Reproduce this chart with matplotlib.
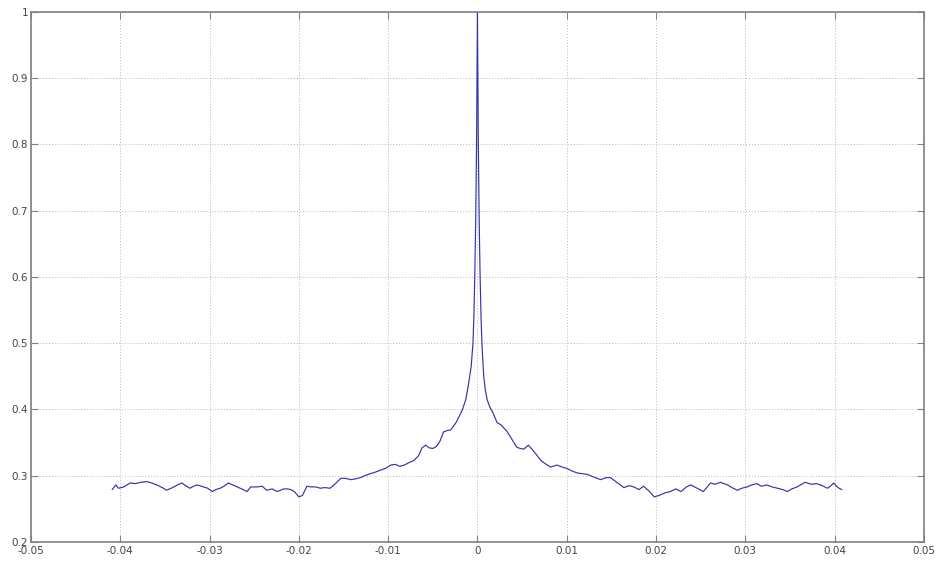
import matplotlib
matplotlib.use("Agg")
import matplotlib.pyplot as plt
from matplotlib.ticker import FixedLocator, FixedFormatter

# right half of the curve (lag >= 0)
lag_pos = [0.0000, 0.0001, 0.00015, 0.0002, 0.0003, 0.0004, 0.0005, 0.0007, 0.0009, 0.0011,
           0.0014, 0.0017, 0.0022, 0.0026,
           0.0033, 0.0039, 0.0044, 0.0048, 0.0052, 0.0057, 0.0063, 0.0067, 0.0071, 0.0076,
           0.0082, 0.0089, 0.0095, 0.0100, 0.0106, 0.0112, 0.0118, 0.0123, 0.0130, 0.0138,
           0.0144, 0.0149, 0.0156, 0.0164, 0.0170, 0.0175, 0.0181, 0.0186, 0.0192, 0.0198,
           0.0203, 0.0210, 0.0216, 0.0222, 0.0228, 0.0234, 0.0239, 0.0246, 0.0253, 0.0261,
           0.0266, 0.0272, 0.0280, 0.0285, 0.0291, 0.0296, 0.0302, 0.0307, 0.0313, 0.0318,
           0.0324, 0.0330, 0.0336, 0.0342, 0.0347, 0.0352, 0.0358, 0.0363, 0.0367, 0.0374,
           0.0380, 0.0386, 0.0392, 0.0396, 0.0399, 0.0402, 0.0405, 0.0408]
val_pos = [1.000, 0.800, 0.740, 0.680, 0.600, 0.540, 0.500, 0.450, 0.428, 0.414,
           0.403, 0.396, 0.380, 0.377,
           0.367, 0.354, 0.343, 0.341, 0.340, 0.346, 0.337, 0.330, 0.323, 0.318,
           0.313, 0.316, 0.313, 0.311, 0.307, 0.304, 0.303, 0.302, 0.298, 0.294,
           0.297, 0.297, 0.290, 0.282, 0.285, 0.283, 0.279, 0.284, 0.277, 0.268,
           0.270, 0.274, 0.276, 0.280, 0.276, 0.283, 0.286, 0.281, 0.276, 0.289,
           0.287, 0.290, 0.286, 0.282, 0.278, 0.281, 0.283, 0.286, 0.288, 0.284,
           0.286, 0.283, 0.281, 0.279, 0.276, 0.280, 0.283, 0.287, 0.290, 0.287,
           0.288, 0.285, 0.281, 0.285, 0.289, 0.284, 0.281, 0.279]

# left half of the curve (lag < 0), from centre outwards
lag_neg = [-0.0001, -0.00015, -0.0002, -0.0003, -0.0004, -0.0005, -0.0007, -0.0010, -0.0013, -0.0017,
           -0.0024, -0.0030, -0.0034, -0.0038,
           -0.0042, -0.0046, -0.0050, -0.0054, -0.0058, -0.0062, -0.0066, -0.0071, -0.0076, -0.0082,
           -0.0087, -0.0092, -0.0097, -0.0103, -0.0109, -0.0115, -0.0120, -0.0126, -0.0131, -0.0137,
           -0.0142, -0.0148, -0.0153, -0.0159, -0.0165, -0.0171, -0.0176, -0.0181, -0.0186, -0.0191,
           -0.0196, -0.0200, -0.0205, -0.0209, -0.0213, -0.0217, -0.0224, -0.0230, -0.0236, -0.0241,
           -0.0247, -0.0254, -0.0258, -0.0264, -0.0269, -0.0274, -0.0279, -0.0284, -0.0288, -0.0293,
           -0.0297, -0.0302, -0.0307, -0.0314, -0.0318, -0.0322, -0.0327, -0.0331, -0.0336, -0.0340,
           -0.0348, -0.0353, -0.0359, -0.0365, -0.0370, -0.0377, -0.0383, -0.0389, -0.0396, -0.0402,
           -0.0405, -0.0409]
val_neg = [0.800, 0.740, 0.680, 0.600, 0.540, 0.500, 0.465, 0.438, 0.415, 0.399,
           0.380, 0.369, 0.368, 0.366,
           0.352, 0.344, 0.341, 0.342, 0.346, 0.342, 0.330, 0.323, 0.320, 0.316,
           0.314, 0.317, 0.316, 0.311, 0.308, 0.305, 0.303, 0.300, 0.297, 0.295,
           0.294, 0.296, 0.296, 0.288, 0.281, 0.282, 0.281, 0.283, 0.283, 0.284,
           0.270, 0.268, 0.276, 0.279, 0.280, 0.280, 0.276, 0.280, 0.278, 0.284,
           0.283, 0.283, 0.276, 0.280, 0.283, 0.286, 0.289, 0.284, 0.281, 0.279,
           0.276, 0.281, 0.283, 0.286, 0.284, 0.281, 0.285, 0.289, 0.286, 0.283,
           0.278, 0.282, 0.286, 0.289, 0.291, 0.290, 0.288, 0.289, 0.283, 0.281,
           0.286, 0.279]

x_ticks = [-0.05, -0.04, -0.03, -0.02, -0.01, 0, 0.01, 0.02, 0.03, 0.04, 0.05]
x_labels = ["-0.05", "-0.04", "-0.03", "-0.02", "-0.01", "0", "0.01", "0.02", "0.03", "0.04", "0.05"]
y_ticks = [0.2, 0.3, 0.4, 0.5, 0.6, 0.7, 0.8, 0.9, 1.0]
y_labels = ["0.2", "0.3", "0.4", "0.5", "0.6", "0.7", "0.8", "0.9", "1"]

lags = list(reversed(lag_neg)) + lag_pos
vals = list(reversed(val_neg)) + val_pos

fig = plt.figure(figsize=(9.38, 5.61), dpi=100)
ax = fig.add_axes([0.033, 0.034, 0.952, 0.945])
ax.plot(lags, vals, color="#3434a8", linewidth=0.85)

ax.set_xlim(-0.05, 0.05)
ax.set_ylim(0.2, 1.0)
ax.xaxis.set_major_locator(FixedLocator(x_ticks))
ax.xaxis.set_major_formatter(FixedFormatter(x_labels))
ax.yaxis.set_major_locator(FixedLocator(y_ticks))
ax.yaxis.set_major_formatter(FixedFormatter(y_labels))

ax.grid(True, linestyle=(0, (1, 2)), color="#b8b8b8", linewidth=0.7)
ax.tick_params(direction="in", length=5, color="#808080", labelcolor="#444444",
               labelsize=7.5, top=True, right=True)
ax.tick_params(axis="x", pad=3)
ax.tick_params(axis="y", pad=2)
for s in ax.spines.values():
    s.set_color("#808080")
    s.set_linewidth(1.2)

fig.savefig("out.png", dpi=100, facecolor="white")
